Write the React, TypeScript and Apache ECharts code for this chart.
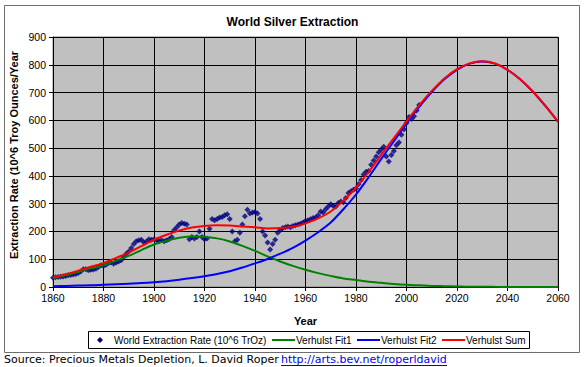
import React, { useEffect, useRef } from "react";
import * as echarts from "echarts";

// ---- Data ----
const extractionStartYear = 1860;
// World extraction rate, 10^6 troy ounces per year, 1860..2005
const extraction = [
  33, 35, 36, 37, 38, 40, 42, 43, 45, 47,
  50, 56, 64, 64, 60, 62, 63, 66, 72, 78,
  76, 80, 86, 88, 84, 88, 92, 96, 108, 120,
  128, 140, 155, 165, 168, 170, 160, 164, 172, 170,
  172, 168, 165, 168, 165, 168, 172, 180, 205, 215,
  225, 230, 228, 225, 172, 180, 175, 180, 200, 180,
  172, 175, 210, 245, 240, 245, 250, 252, 258, 262,
  245, 200, 165, 170, 195, 225, 255, 278, 265, 268,
  270, 265, 245, 200, 185, 160, 135, 155, 170, 195,
  205, 212, 215, 218, 215, 220, 222, 225, 228, 232,
  238, 240, 244, 248, 250, 258, 272, 268, 280, 290,
  298, 292, 290, 302, 308, 305, 320, 338, 345, 350,
  355, 370, 385, 405, 415, 418, 440, 455, 470, 485,
  495, 505, 470, 452, 475, 490, 510, 520, 548, 568,
  590, 612, 605, 615, 635, 655,
];

const curveYears = [
  1860, 1865, 1870, 1875, 1880, 1885, 1890, 1895, 1900, 1905,
  1910, 1915, 1920, 1925, 1930, 1935, 1940, 1945, 1950, 1955,
  1960, 1965, 1970, 1975, 1980, 1985, 1990, 1995, 2000, 2005,
  2010, 2015, 2020, 2025, 2030, 2035, 2040, 2045, 2050, 2055, 2060,
];
const verhulstFit1 = [
  32, 42, 54, 67, 78, 95, 112, 133, 153, 167,
  177, 182, 181, 175, 164, 148, 130, 110, 92, 76,
  62, 50, 40, 31, 25, 19, 15, 11, 8, 6,
  4, 3, 2, 1, 1, 0.5, 0.4, 0.3, 0.2, 0.1, 0.1,
];
const verhulstFit2 = [
  3, 4, 5, 6, 8, 10, 12, 14, 17, 21,
  26, 32, 39, 47, 57, 70, 85, 101, 120, 141,
  167, 197, 232, 280, 333, 395, 461, 525, 588, 648,
  702, 748, 782, 804, 812, 804, 782, 748, 704, 652, 595,
];
const verhulstSum = [
  35, 46, 59, 73, 86, 105, 124, 147, 170, 188,
  203, 214, 220, 222, 221, 218, 215, 211, 212, 217,
  229, 247, 272, 311, 358, 414, 476, 536, 596, 654,
  706, 751, 784, 805, 813, 805, 782, 748, 704, 652, 595,
];

const yearTicks = [1860, 1880, 1900, 1920, 1940, 1960, 1980, 2000, 2020, 2040, 2060];
const valueTicks = [0, 100, 200, 300, 400, 500, 600, 700, 800, 900];

const titleText = "World Silver Extraction";
const xTitle = "Year";
const yTitle = "Extraction Rate (10^6 Troy Ounces/Year";
const legendNames = [
  "World Extraction Rate (10^6 TrOz)",
  "Verhulst Fit1",
  "Verhulst Fit2",
  "Verhulst Sum",
];
const sourceText = "Source: Precious Metals Depletion, L. David Roper";
const sourceLink = "http://arts.bev.net/roperldavid";

const FONT = "'Liberation Sans', Arial, sans-serif";

export default function App() {
  const ref = useRef<HTMLDivElement>(null);

  useEffect(() => {
    if (!ref.current) return;
    const chart = echarts.init(ref.current, undefined, { renderer: "svg" });

    const pts = extraction.map((v, i) => [extractionStartYear + i, v]);
    const line = (vals: number[]) => curveYears.map((y, i) => [y, vals[i]]);

    const legendY = 340;
    const lineSeg = (x: number, color: string) => ({
      type: "line",
      shape: { x1: x, y1: legendY, x2: x + 23, y2: legendY },
      style: { stroke: color, lineWidth: 2 },
    });
    const legendText = (x: number, text: string) => ({
      type: "text",
      x,
      y: legendY,
      style: {
        text,
        font: `10px ${FONT}`,
        fill: "#000",
        verticalAlign: "middle",
        align: "left",
      },
    });

    chart.setOption({
      animation: false,
      backgroundColor: "#ffffff",
      title: {
        text: titleText,
        left: "center",
        top: 11,
        textStyle: { fontFamily: FONT, fontSize: 12, fontWeight: "bold", color: "#000" },
      },
      grid: {
        left: 53,
        top: 37,
        right: 27,
        bottom: 80,
        show: true,
        backgroundColor: "#c0c0c0",
        borderColor: "#808080",
        borderWidth: 1,
      },
      xAxis: {
        type: "value",
        min: yearTicks[0],
        max: yearTicks[yearTicks.length - 1],
        interval: 20,
        name: xTitle,
        nameLocation: "middle",
        nameGap: 28,
        nameTextStyle: { fontFamily: FONT, fontSize: 11, fontWeight: "bold", color: "#000" },
        axisLine: { show: true, lineStyle: { color: "#000", width: 1 } },
        axisTick: { show: true, length: 4, lineStyle: { color: "#000" } },
        axisLabel: {
          fontFamily: FONT,
          fontSize: 10.5,
          color: "#000",
          margin: 5,
          formatter: (v: number) => String(v),
        },
        splitLine: { show: true, lineStyle: { color: "#000", width: 1 } },
      },
      yAxis: {
        type: "value",
        min: valueTicks[0],
        max: valueTicks[valueTicks.length - 1],
        interval: 100,
        axisLine: { show: true, lineStyle: { color: "#000", width: 1 } },
        axisTick: { show: true, length: 4, lineStyle: { color: "#000" } },
        axisLabel: {
          fontFamily: FONT,
          fontSize: 10.5,
          color: "#000",
          margin: 7,
          formatter: (v: number) => String(v),
        },
        splitLine: { show: true, lineStyle: { color: "#000", width: 1 } },
      },
      series: [
        {
          name: legendNames[0],
          type: "scatter",
          data: pts,
          symbol: "diamond",
          symbolSize: 6,
          itemStyle: { color: "#000080" },
        },
        {
          name: legendNames[1],
          type: "line",
          data: line(verhulstFit1),
          smooth: 0.3,
          showSymbol: false,
          lineStyle: { color: "#008000", width: 2 },
        },
        {
          name: legendNames[2],
          type: "line",
          data: line(verhulstFit2),
          smooth: 0.3,
          showSymbol: false,
          lineStyle: { color: "#0000ff", width: 2 },
        },
        {
          name: legendNames[3],
          type: "line",
          data: line(verhulstSum),
          smooth: 0.3,
          showSymbol: false,
          lineStyle: { color: "#ff0000", width: 2 },
        },
      ],
      graphic: [
        {
          type: "rect",
          shape: { x: 4.5, y: 5.5, width: 575, height: 347 },
          style: { fill: "none", stroke: "#6e6e6e", lineWidth: 1 },
          silent: true,
        },
        {
          type: "text",
          x: 14,
          y: 155,
          rotation: Math.PI / 2,
          style: {
            text: yTitle,
            font: `bold 11px ${FONT}`,
            fill: "#000",
            align: "center",
            verticalAlign: "middle",
          },
        },
        {
          type: "rect",
          shape: { x: 88.5, y: 331.5, width: 441, height: 17 },
          style: { fill: "#fff", stroke: "#000", lineWidth: 1 },
        },
        {
          type: "polygon",
          shape: { points: [[100, legendY - 3], [103, legendY], [100, legendY + 3], [97, legendY]] },
          style: { fill: "#000080" },
        },
        legendText(114, legendNames[0]),
        lineSeg(272, "#008000"),
        legendText(296, legendNames[1]),
        lineSeg(357, "#0000ff"),
        legendText(381, legendNames[2]),
        lineSeg(442, "#ff0000"),
        legendText(466, legendNames[3]),
        {
          type: "text",
          x: 4,
          y: 359,
          style: {
            text: sourceText,
            font: `11px 'DejaVu Sans', sans-serif`,
            fill: "#000",
            verticalAlign: "middle",
          },
        },
        {
          type: "text",
          x: 281,
          y: 359,
          style: {
            text: sourceLink,
            font: `11px 'DejaVu Sans', sans-serif`,
            fill: "#0000ee",
            verticalAlign: "middle",
          },
        },
        {
          type: "line",
          shape: { x1: 281, y1: 365.5, x2: 447, y2: 365.5 },
          style: { stroke: "#0000ee", lineWidth: 1 },
        },
      ],
    });

    return () => chart.dispose();
  }, []);

  return (
    <div
      ref={ref}
      style={{ position: "absolute", left: 0, top: 0, width: 585, height: 367 }}
    />
  );
}
